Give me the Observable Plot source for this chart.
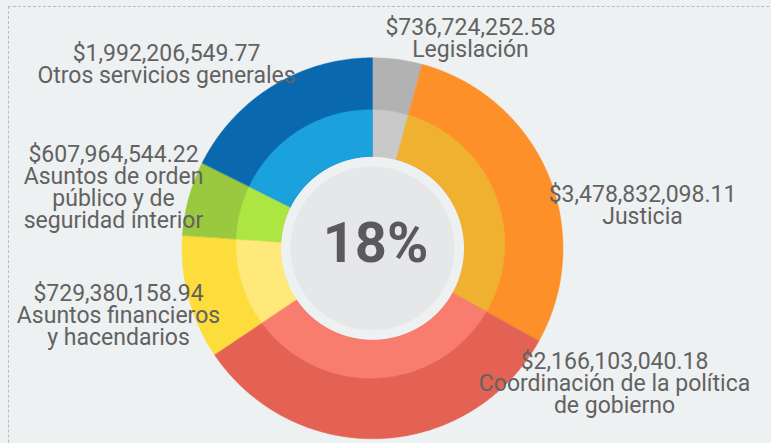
<!DOCTYPE html>
<html><head><meta charset="utf-8">
<script src="https://cdn.jsdelivr.net/npm/d3@7"></script>
<script src="https://cdn.jsdelivr.net/npm/@observablehq/plot@0.6"></script>
<style>
html,body{margin:0;padding:0;background:#eef1f2;}
#chart{position:relative;width:771px;height:443px;overflow:hidden;background:#eef1f2;}
#frame{position:absolute;left:8px;top:6px;width:900px;height:600px;border-left:1px dashed #b9bbbc;border-top:1px dashed #b9bbbc;}
#chart svg{position:absolute;left:0;top:0;background:transparent;}
</style></head><body><div id="chart"><div id="frame"></div></div>
<script>
// ---- data ----
const categories = ["Legislación", "Justicia", "Coordinación de la política\nde gobierno", "Asuntos financieros\ny hacendarios", "Asuntos de orden\npúblico y de\nseguridad interior", "Otros servicios generales"];
const amounts = [736724252.58, 3478832098.11, 2166103040.18, 729380158.94, 607964544.22, 1992206549.77];
const shares = [4.2, 28.9, 32.5, 10.5, 6.3, 17.6]; // share of the ring (%)
const centerLabel = "18%";

// ---- styles / layout ----
const outerColors = ["#b2b2b2", "#fd9029", "#e36253", "#fcdd3c", "#9ac83e", "#0a69ae"];
const innerColors = ["#c9c9c9", "#f0b131", "#f87d6e", "#ffe97a", "#ade542", "#1ba1db"];
const labelAnchors = [[470, 34.5], [642, 201.5], [614, 368.5], [118, 300], [113, 161.5], [166, 60]];
const W = 771, H = 443;
const cx = 372, cy = 247.8, R0 = 92, R1 = 190.5;
const ic = {x: 370, y: 243.5, r: 134.2};
const LH = 22;
const FS = 23;

const total = d3.sum(shares);
let acc = 0;
const slices = shares.map((s, i) => {
  const a0 = acc / total * 2 * Math.PI; acc += s;
  return {i, a0, a1: acc / total * 2 * Math.PI};
});
function rayCircle(a) {
  const ux = Math.sin(a), uy = -Math.cos(a);
  const dx = cx - ic.x, dy = cy - ic.y;
  const b = dx * ux + dy * uy, c = dx * dx + dy * dy - ic.r * ic.r;
  return -b + Math.sqrt(b * b - c);
}
function ring(slice, rIn, rOut, color, key) {
  const n = Math.max(2, Math.ceil((slice.a1 - slice.a0) / (Math.PI / 360)));
  const pts = [];
  for (let k = 0; k <= n; k++) {
    const a = slice.a0 + (slice.a1 - slice.a0) * k / n, r = rOut(a);
    pts.push({x: cx + r * Math.sin(a), y: cy - r * Math.cos(a), key, color});
  }
  for (let k = n; k >= 0; k--) {
    const a = slice.a0 + (slice.a1 - slice.a0) * k / n, r = rIn(a);
    pts.push({x: cx + r * Math.sin(a), y: cy - r * Math.cos(a), key, color});
  }
  return pts;
}
const outerPts = slices.flatMap(s => ring(s, () => R0, () => R1, outerColors[s.i], "o" + s.i));
const innerPts = slices.flatMap(s => ring(s, () => R0, rayCircle, innerColors[s.i], "i" + s.i));

const labels = categories.map((c, i) => {
  const text = "$" + d3.format(",.2f")(amounts[i]) + "\n" + c;
  const n = text.split("\n").length;
  return {text, x: labelAnchors[i][0], y: labelAnchors[i][1] + (n - 1) * LH};
});

const plot = Plot.plot({
  width: W, height: H,
  margin: 0,
  x: {domain: [0, W], range: [0, W], axis: null},
  y: {domain: [0, H], range: [0, H], axis: null},
  color: {type: "identity"},
  style: {background: "transparent"},
  marks: [
    Plot.line(outerPts, {x: "x", y: "y", z: "key", fill: "color", stroke: "color", strokeWidth: 0.5, curve: "linear-closed"}),
    Plot.line(innerPts, {x: "x", y: "y", z: "key", fill: "color", stroke: "color", strokeWidth: 0.5, curve: "linear-closed"}),
    Plot.dot([{x: cx, y: cy}], {x: "x", y: "y", r: 82, fill: "#e6e7e9", stroke: null}),
    Plot.text([centerLabel], {x: () => cx, y: () => cy + 14, text: d => d, dx: 3, lineAnchor: "bottom", fontSize: 56, fontWeight: "bold", fontFamily: "Roboto", fill: "#5a5a5c"}),
    Plot.text(labels, {x: "x", y: "y", text: "text", lineAnchor: "bottom", lineHeight: LH / FS, fontSize: FS, fontFamily: "Roboto", fill: "#626262"})
  ]
});
document.getElementById("chart").appendChild(plot);
</script>
</body></html>
